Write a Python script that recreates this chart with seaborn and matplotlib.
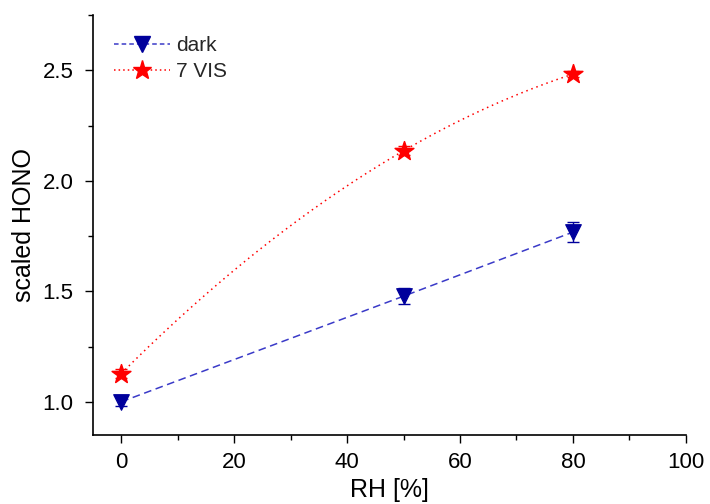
import numpy as np
import matplotlib
matplotlib.use("Agg")
import matplotlib.pyplot as plt
from matplotlib.lines import Line2D
from matplotlib.ticker import MultipleLocator
import pandas as pd
import seaborn as sb

# dados
rh = [0, 50, 80]
dark = [1.0, 1.478, 1.768]
dark_err = [0.02, 0.035, 0.045]
vis = [1.128, 2.136, 2.483]
vis_err = [0.02, 0.02, 0.015]

sb.set_style("ticks")
plt.rcParams["font.family"] = ["Liberation Sans", "DejaVu Sans"]

azul = "#00009c"
azul_linha = "#3a3ac8"
vermelho = "#ff0000"

fig = plt.figure(figsize=(7.1, 5.04), dpi=100)
ax = fig.add_axes([0.131, 0.137, 0.835, 0.833])

df_dark = pd.DataFrame({"rh": rh, "v": dark})
sb.lineplot(data=df_dark, x="rh", y="v", ax=ax, color=azul_linha, lw=1.1,
            linestyle=(0, (5, 3)))
ax.errorbar(rh, dark, yerr=dark_err, fmt="none", ecolor=azul, elinewidth=1,
            capsize=4, capthick=1)
sb.scatterplot(data=df_dark, x="rh", y="v", ax=ax, marker="v", s=125,
               color=azul, edgecolor=azul, zorder=5)

# curva suave (spline) pelos pontos VIS
coef = np.polyfit(rh, vis, 2)
xs = np.linspace(rh[0], rh[-1], 200)
df_curve = pd.DataFrame({"rh": xs, "v": np.polyval(coef, xs)})
sb.lineplot(data=df_curve, x="rh", y="v", ax=ax, color=vermelho, lw=1.1,
            linestyle=(0, (1, 2.5)))
ax.errorbar(rh, vis, yerr=vis_err, fmt="none", ecolor=vermelho, elinewidth=1,
            capsize=4, capthick=1)
df_vis = pd.DataFrame({"rh": rh, "v": vis})
sb.scatterplot(data=df_vis, x="rh", y="v", ax=ax, marker="*", s=200,
               color=vermelho, edgecolor=vermelho, zorder=5)

ax.set_xlim(-5, 100)
ax.set_ylim(0.85, 2.75)
ax.xaxis.set_major_locator(MultipleLocator(20))
ax.xaxis.set_minor_locator(MultipleLocator(10))
ax.yaxis.set_major_locator(MultipleLocator(0.5))
ax.yaxis.set_minor_locator(MultipleLocator(0.25))
ax.tick_params(which="major", length=6, width=1, labelsize=16, color="black",
               labelcolor="black", pad=6)
ax.tick_params(axis="y", which="major", pad=8)
ax.tick_params(which="minor", length=3.5, width=1, color="black")
for s in ["left", "bottom"]:
    ax.spines[s].set_linewidth(1.2)
    ax.spines[s].set_color("black")
sb.despine(ax=ax)

ax.set_xlabel("RH [%]", fontsize=18, color="black", labelpad=4)
ax.set_ylabel("scaled HONO", fontsize=18, color="black", labelpad=5)

handles = [
    Line2D([], [], color=azul_linha, lw=1.1, linestyle=(0, (3, 2)), marker="v",
           markersize=11, markerfacecolor=azul, markeredgecolor=azul),
    Line2D([], [], color=vermelho, lw=1.1, linestyle=(0, (1, 2)), marker="*",
           markersize=14, markerfacecolor=vermelho, markeredgecolor=vermelho),
]
ax.legend(handles, ["dark", "7 VIS"], loc="upper left", frameon=False,
          fontsize=15, handlelength=2.7, borderaxespad=0.6, labelspacing=0.35,
          handletextpad=0.3, bbox_to_anchor=(0.0, 1.0))

fig.savefig("out.png", dpi=100)
